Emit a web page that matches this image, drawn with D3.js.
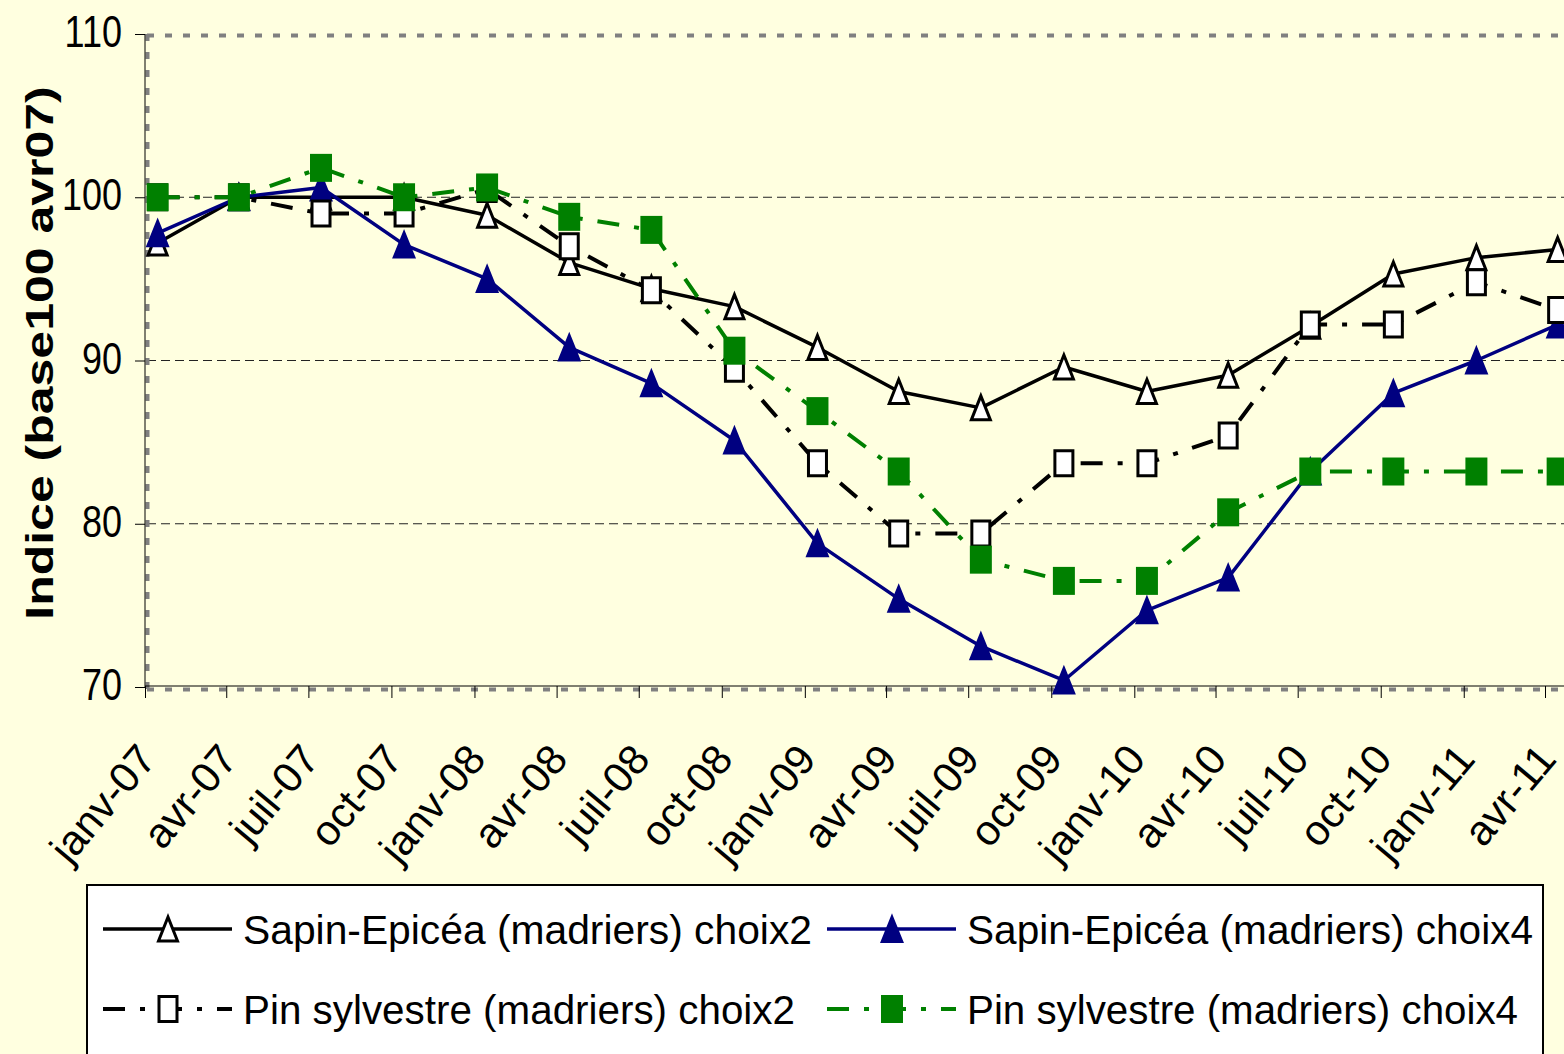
<!DOCTYPE html>
<html><head><meta charset="utf-8">
<script src="https://cdn.jsdelivr.net/npm/d3@7"></script>
<style>body{margin:0;background:#FFFFE0;} svg{display:block;}</style>
</head><body>
<svg id="chart" width="1564" height="1054"></svg>
<script>
// ---- data ----
const months = ["2007-01","2007-04","2007-07","2007-10","2008-01","2008-04","2008-07","2008-10",
  "2009-01","2009-04","2009-07","2009-10","2010-01","2010-04","2010-07","2010-10","2011-01","2011-04"];
const tickLabels = ["janv-07","avr-07","juil-07","oct-07","janv-08","avr-08","juil-08","oct-08",
  "janv-09","avr-09","juil-09","oct-09","janv-10","avr-10","juil-10","oct-10","janv-11","avr-11"];
const yTicks = [70, 80, 90, 100, 110];
const seriesNames = ["Sapin-Epicéa (madriers) choix2","Sapin-Epicéa (madriers) choix4",
  "Pin sylvestre (madriers) choix2","Pin sylvestre (madriers) choix4"];
const sapinChoix2 = [97.2,100,100,100,98.9,96.0,94.4,93.3,90.8,88.1,87.1,89.6,88.1,89.1,92.1,95.3,96.3,96.8];
const sapinChoix4 = [97.8,100,100.6,97.1,95.0,90.8,88.6,85.1,78.8,75.4,72.5,70.4,74.7,76.7,83.2,88.0,90.0,92.2];
const pinChoix2   = [100,100,99.0,99.0,100.5,97.0,94.3,89.5,83.7,79.4,79.4,83.7,83.7,85.4,92.2,92.2,94.8,93.1];
const pinChoix4   = [100,100,101.8,100.0,100.6,98.8,98.0,90.6,86.9,83.2,77.8,76.5,76.5,80.7,83.2,83.2,83.2,83.2];
const yTitle = "Indice (base100 avr07)";

// ---- setup ----
const svg = d3.select("#chart");
const W = 1564, H = 1054;
const parse = d3.timeParse("%Y-%m-%d");
const tickDates = months.map(m => parse(m + "-01"));
const pointDates = months.map(m => parse(m + "-15"));

const x = d3.scaleTime().domain([tickDates[0], tickDates[tickDates.length-1]]).range([145, 1545]);
const y = d3.scaleLinear().domain([70, 110]).range([687, 34]);

svg.append("rect").attr("width", W).attr("height", H).attr("fill", "#FFFFE0");

// gridlines
svg.append("g").selectAll("line").data([80, 90, 100]).join("line")
  .attr("x1", 147).attr("x2", 1600)
  .attr("y1", d => y(d)).attr("y2", d => y(d))
  .attr("stroke", "#222").attr("stroke-width", 1).attr("stroke-dasharray", "9,5");

// gray dashed plot border (top, left, bottom)
const border = svg.append("g").attr("stroke", "#808080").attr("stroke-width", 4).attr("stroke-dasharray", "7,11");
border.append("line").attr("x1", 147).attr("x2", 1600).attr("y1", y(110) + 1.5).attr("y2", y(110) + 1.5);
border.append("line").attr("x1", 147.5).attr("x2", 147.5).attr("y1", y(110)).attr("y2", y(70) + 2);
border.append("line").attr("x1", 147).attr("x2", 1600).attr("y1", y(70) + 2.5).attr("y2", y(70) + 2.5);

// y axis
const yAxis = d3.axisLeft(y).tickValues(yTicks).tickSize(10).tickFormat("");
const gy = svg.append("g").attr("transform", "translate(145,0)").call(yAxis);
gy.selectAll("path,line").attr("stroke", "#000").attr("stroke-width", 1);
gy.select(".domain").attr("d", `M0,${y(110)}V${y(70)}`);
svg.append("g").selectAll("text").data(yTicks).join("text")
  .attr("transform", d => `translate(122,${y(d) + 13}) scale(0.8,1)`)
  .attr("text-anchor", "end")
  .attr("font-family", "Liberation Sans, Arial, sans-serif").attr("font-size", 45)
  .attr("fill", "#000").text(d => d);

// x axis
const xAxis = d3.axisBottom(x).tickValues(tickDates).tickSize(12).tickFormat("");
const gx = svg.append("g").attr("transform", `translate(0,${y(70) - 1})`).call(xAxis);
gx.selectAll("path,line").attr("stroke", "#000").attr("stroke-width", 1);
gx.select(".domain").attr("d", "M145,0H1600");
svg.append("g").selectAll("text").data(tickLabels).join("text")
  .attr("transform", (d, i) => `translate(${x(tickDates[i]) + 13},760) rotate(-50)`)
  .attr("text-anchor", "end")
  .attr("font-family", "Liberation Sans, Arial, sans-serif").attr("font-size", 42)
  .attr("fill", "#000").text(d => d);

// y title
svg.append("text")
  .attr("transform", `translate(53,353) scale(0.78,1) rotate(-90)`)
  .attr("text-anchor", "middle")
  .attr("font-family", "Liberation Sans, Arial, sans-serif").attr("font-size", 50).attr("font-weight", "bold")
  .attr("fill", "#000").text(yTitle);

// ---- series ----
const triPath = (w, h) => `M0,${-h/2}L${w/2},${h/2}L${-w/2},${h/2}Z`;
const sqPath = (w, h) => `M${-w/2},${-h/2}H${w/2}V${h/2}H${-w/2}Z`;
const styles = [
  {values: sapinChoix2, color: "#000", dash: null, width: 3.5, marker: triPath(19, 24), mfill: "#fff", mstroke: "#000", msw: 3},
  {values: sapinChoix4, color: "#000080", dash: null, width: 3.5, marker: triPath(21, 26), mfill: "#000080", mstroke: "#000080", msw: 2},
  {values: pinChoix2, color: "#000", dash: "22,15,5,15", width: 4, marker: sqPath(18, 25), mfill: "#fff", mstroke: "#000", msw: 3},
  {values: pinChoix4, color: "#008000", dash: "22,15,5,15", width: 4, marker: sqPath(22, 28), mfill: "#008000", mstroke: "none", msw: 0}
];
const line = d3.line().x(d => x(d.date)).y(d => y(d.v));
styles.forEach(s => {
  const pts = s.values.map((v, i) => ({date: pointDates[i], v}));
  svg.append("path").datum(pts).attr("d", line)
    .attr("fill", "none").attr("stroke", s.color).attr("stroke-width", s.width)
    .attr("stroke-dasharray", s.dash).attr("stroke-linejoin", "round");
  svg.append("g").selectAll("path").data(pts).join("path")
    .attr("d", s.marker)
    .attr("transform", d => `translate(${x(d.date)},${y(d.v)})`)
    .attr("fill", s.mfill).attr("stroke", s.mstroke).attr("stroke-width", s.msw);
});

// ---- legend ----
const lg = svg.append("g");
lg.append("rect").attr("x", 87).attr("y", 885).attr("width", 1456).attr("height", 220)
  .attr("fill", "#fff").attr("stroke", "#000").attr("stroke-width", 2);
const legPos = [
  {lx: 103, tx: 243, ly: 929, tl: 569},
  {lx: 827, tx: 967, ly: 929, tl: 566},
  {lx: 103, tx: 243, ly: 1009, tl: 552},
  {lx: 827, tx: 967, ly: 1009, tl: 551}
];
styles.forEach((s, i) => {
  const p = legPos[i];
  lg.append("line").attr("x1", p.lx).attr("x2", p.lx + 129).attr("y1", p.ly).attr("y2", p.ly)
    .attr("stroke", s.color).attr("stroke-width", s.width).attr("stroke-dasharray", s.dash);
  lg.append("path").attr("d", s.marker).attr("transform", `translate(${p.lx + 65},${p.ly})`)
    .attr("fill", s.mfill).attr("stroke", s.mstroke).attr("stroke-width", s.msw);
  lg.append("text").attr("x", p.tx).attr("y", p.ly + 15)
    .attr("font-family", "Liberation Sans, Arial, sans-serif").attr("font-size", 41)
    .attr("textLength", p.tl).attr("lengthAdjust", "spacingAndGlyphs")
    .attr("fill", "#000").text(seriesNames[i]);
});
</script>
</body></html>
